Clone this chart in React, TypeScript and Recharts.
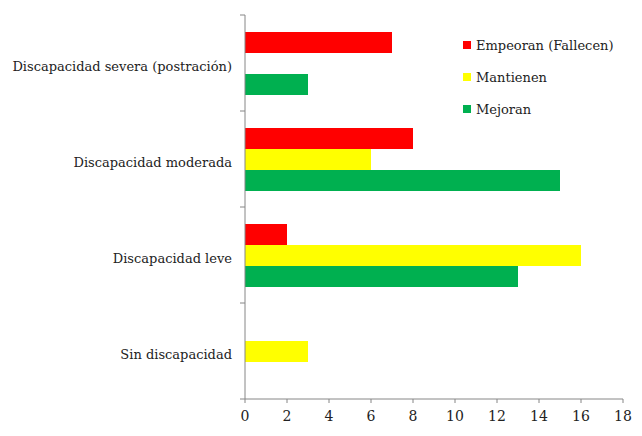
import { Bar, BarChart, XAxis, YAxis } from "recharts";

const categories = [
  "Discapacidad severa (postración)",
  "Discapacidad moderada",
  "Discapacidad leve",
  "Sin discapacidad",
];
const empeoran = [7, 8, 2, 0];
const mantienen = [0, 6, 16, 3];
const mejoran = [3, 15, 13, 0];
const xTicks = [0, 2, 4, 6, 8, 10, 12, 14, 16, 18];

const series = [
  { key: "empeoran", name: "Empeoran (Fallecen)", color: "#ff0000" },
  { key: "mantienen", name: "Mantienen", color: "#ffff00" },
  { key: "mejoran", name: "Mejoran", color: "#00b050" },
];

const data = categories.map((name, i) => ({
  name,
  empeoran: empeoran[i],
  mantienen: mantienen[i],
  mejoran: mejoran[i],
}));

const FONT = "DejaVu Serif";
const AXIS = "#868686";
const HALF_BAND = 48;

function CategoryTick({ x, y, payload, index }: any) {
  return (
    <g>
      <line x1={x + 14} x2={x + 19} y1={y - HALF_BAND} y2={y - HALF_BAND} stroke={AXIS} />
      {index === categories.length - 1 && (
        <line x1={x + 14} x2={x + 19} y1={y + HALF_BAND} y2={y + HALF_BAND} stroke={AXIS} />
      )}
      <text x={x + 6} y={y} dy={8} textAnchor="end" fill="#222" fontSize={13} fontFamily={FONT}>
        {payload.value}
      </text>
    </g>
  );
}

function NumberTick({ x, y, payload }: any) {
  return (
    <text x={x} y={y} dy={16} textAnchor="middle" fill="#222" fontSize={14} fontFamily={FONT}>
      {payload.value}
    </text>
  );
}

export default function App() {
  return (
    <div style={{ position: "absolute", left: 0, top: 0, width: 642, height: 436, background: "#fff" }}>
      <BarChart
        width={642}
        height={436}
        data={data}
        layout="vertical"
        margin={{ top: 15, right: 19, bottom: 7, left: 0 }}
        barCategoryGap={17}
        barGap={0}
      >
        <XAxis
          type="number"
          domain={[0, 18]}
          ticks={xTicks}
          interval={0}
          stroke={AXIS}
          tickSize={4}
          height={30}
          tick={<NumberTick />}
        />
        <YAxis
          type="category"
          dataKey="name"
          width={245}
          stroke={AXIS}
          tickLine={false}
          tickMargin={13}
          tick={<CategoryTick />}
        />
        {series.map((s) => (
          <Bar key={s.key} dataKey={s.key} name={s.name} fill={s.color} isAnimationActive={false} />
        ))}
      </BarChart>
      <div
        style={{
          position: "absolute",
          left: 463,
          top: 29,
          fontFamily: FONT,
          fontSize: 13,
          color: "#222",
        }}
      >
        {series.map((s) => (
          <div key={s.key} style={{ display: "flex", alignItems: "center", height: 32 }}>
            <span style={{ width: 8, height: 8, background: s.color, marginRight: 5 }} />
            {s.name}
          </div>
        ))}
      </div>
    </div>
  );
}
